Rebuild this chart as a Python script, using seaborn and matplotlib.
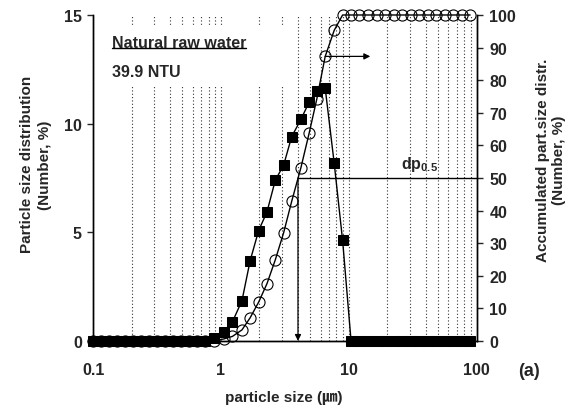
import numpy as np
import pandas as pd
import matplotlib
matplotlib.use("Agg")
import matplotlib.pyplot as plt
import seaborn as sns
from matplotlib.patches import Rectangle
from matplotlib.lines import Line2D

# particle size channels (um)
size_um = [0.100, 0.115, 0.133, 0.154, 0.178, 0.205, 0.237, 0.274, 0.316, 0.365,
           0.422, 0.487, 0.562, 0.649, 0.750,
           0.88, 1.05, 1.23, 1.46, 1.69, 1.97, 2.29, 2.66, 3.09, 3.57,
           4.22, 4.90, 5.62, 6.53, 7.68, 8.93,
           10.4, 12.1, 14.1, 16.5, 19.2, 22.4, 26.1, 30.4, 35.4, 41.3,
           48.1, 56.1, 65.3, 76.1, 88.7]

# particle size distribution (Number, %) - filled squares, left axis
number_pct = [0, 0, 0, 0, 0, 0, 0, 0, 0, 0,
              0, 0, 0, 0, 0,
              0.14, 0.42, 0.88, 1.86, 3.69, 5.08, 5.94, 7.40, 8.09, 9.40,
              10.2, 11.0, 11.52, 11.63, 8.17, 4.63,
              0, 0, 0, 0, 0, 0, 0, 0, 0, 0,
              0, 0, 0, 0, 0]

# accumulated distribution (Number, %) - open circles, right axis
cumul_pct = [0, 0, 0, 0, 0, 0, 0, 0, 0, 0,
             0, 0, 0, 0, 0,
             0.1, 0.6, 1.4, 3.4, 7.1, 11.9, 17.6, 24.9, 33.2, 42.8,
             53.2, 63.9, 74.3, 87.3, 95.3, 100,
             100, 100, 100, 100, 100, 100, 100, 100, 100, 100,
             100, 100, 100, 100, 100]

dp50 = 4.0          # median size marked with the arrow
arrow_from = (6.53, 87.3)
arrow_to_x = 14.7

df = pd.DataFrame({"size": size_um, "number": number_pct, "cumul": cumul_pct})

sns.set_style("ticks")
plt.rcParams["font.family"] = ["Liberation Sans", "Noto Sans CJK JP", "DejaVu Sans"]
plt.rcParams["font.weight"] = "bold"
plt.rcParams["mathtext.fontset"] = "custom"
plt.rcParams["mathtext.rm"] = "Liberation Sans:bold"
plt.rcParams["mathtext.bf"] = "Liberation Sans:bold"

fig = plt.figure(figsize=(5.71, 4.10), dpi=100)
# base axes holds the accumulated curve (right scale), twin holds the squares
# (left scale) so the squares are drawn on top of the circles
ax_cum = fig.add_axes([0.163, 0.166, 0.672, 0.795])
ax_num = ax_cum.twinx()
ax_cum.yaxis.tick_right()
ax_num.yaxis.tick_left()

ax_cum.set_xscale("log")
ax_cum.set_xlim(0.1, 100)
ax_cum.set_ylim(0, 100)
ax_num.set_ylim(0, 15)

ax_cum.set_axisbelow(True)
ax_cum.grid(True, which="both", axis="x", linestyle=(0, (1, 2)), color="0.2", linewidth=0.8)

# white box behind the sample text (interrupts grid)
ax_cum.add_patch(Rectangle((0.031, 0.782), 0.47, 0.181, transform=ax_cum.transAxes,
                           facecolor="white", edgecolor="none", zorder=1))

sns.lineplot(data=df, x="size", y="cumul", ax=ax_cum, color="black", lw=1.0,
             marker="o", markersize=8, markeredgecolor="black",
             markerfacecolor="none", markeredgewidth=0.8,
             estimator=None, sort=False, zorder=3, clip_on=False)
sns.lineplot(data=df, x="size", y="number", ax=ax_num, color="black", lw=1.0,
             marker="s", markersize=7, markeredgecolor="black",
             markerfacecolor="black", estimator=None, sort=False, zorder=3,
             clip_on=False)

# dp0.5 lines and arrows
ax_cum.plot([dp50, 100], [50, 50], color="black", lw=1.0)
ax_cum.annotate("", xy=(dp50, 0), xytext=(dp50, 50),
                arrowprops=dict(arrowstyle="-|>", color="black", lw=0.9,
                                mutation_scale=9, shrinkA=0, shrinkB=0))
ax_cum.annotate("", xy=(arrow_to_x, arrow_from[1]), xytext=arrow_from,
                arrowprops=dict(arrowstyle="-|>", color="black", lw=0.9,
                                mutation_scale=9, shrinkA=0, shrinkB=0))
ax_cum.text(35.4, 54.5, r"$\mathbf{dp_{0.5}}$", ha="center", va="center", fontsize=11.5)

# ticks
ax_cum.set_xticks([0.1, 1, 10, 100], labels=["0.1", "1", "10", "100"])
ax_cum.xaxis.set_minor_formatter(matplotlib.ticker.NullFormatter())
ax_cum.tick_params(axis="x", which="both", length=0, pad=15, labelsize=11.5)
ax_cum.set_yticks(range(0, 101, 10))
ax_cum.tick_params(axis="y", length=4, width=1, pad=5, labelsize=11.5)
ax_num.set_yticks([0, 5, 10, 15])
ax_num.tick_params(axis="y", length=4, width=1, pad=4, labelsize=11.5)
for a in (ax_cum, ax_num):
    a.spines["top"].set_visible(False)
    for s in a.spines.values():
        s.set_linewidth(1.0)
        s.set_color("black")
    a.set_xlabel("")
    a.set_ylabel("")

# labels
fig.text(0.497, 0.030, "particle size (㎛)", ha="center", va="center", fontsize=11)
fig.text(0.063, 0.598, "Particle size distribution\n(Number, %)", rotation=90,
         ha="center", va="center", multialignment="center", fontsize=11, linespacing=1.4)
fig.text(0.965, 0.61, "Accumulated part.size distr.\n(Number, %)", rotation=90,
         ha="center", va="center", multialignment="center", fontsize=11, linespacing=1.2)
fig.text(0.926, 0.093, "(a)", ha="center", va="center", fontsize=13)

t1 = ax_cum.text(0.0495, 0.917, "Natural raw water", transform=ax_cum.transAxes,
                 ha="left", va="center", fontsize=11.5, zorder=4)
ax_cum.text(0.0495, 0.828, "39.9 NTU", transform=ax_cum.transAxes,
            ha="left", va="center", fontsize=11.5, zorder=4)

fig.canvas.draw()
bb = t1.get_window_extent()
W, H = fig.canvas.get_width_height()
yl = (bb.y0 + 1) / H
fig.add_artist(Line2D([bb.x0 / W, bb.x1 / W], [yl, yl], color="black", lw=1.0))

fig.savefig("out.png", dpi=100)
